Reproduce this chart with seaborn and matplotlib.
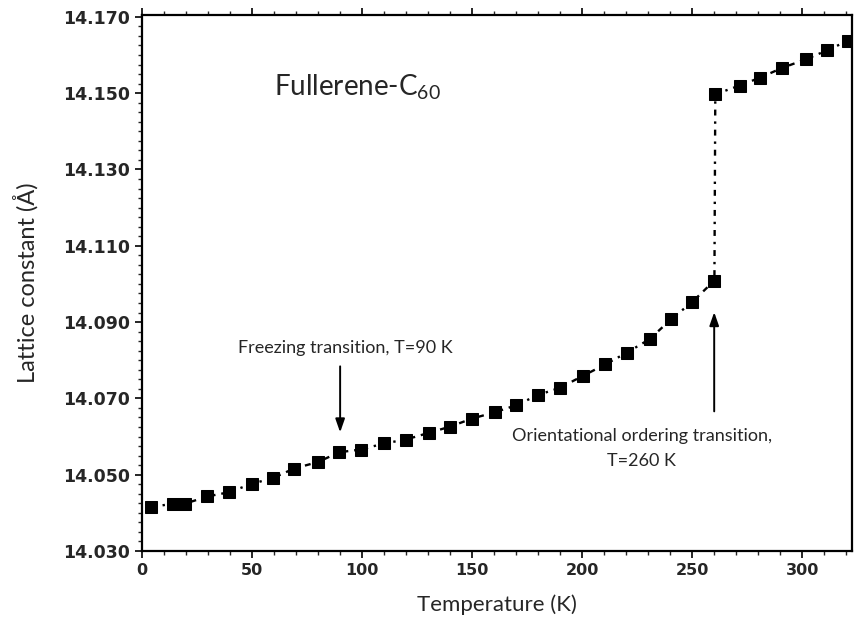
import matplotlib
matplotlib.use("Agg")
import matplotlib.pyplot as plt
import seaborn as sns
import pandas as pd
from matplotlib.ticker import MultipleLocator, FormatStrFormatter

# ---- data ----
temperature = [4, 14, 19.5, 29.7, 39.5, 49.8, 59.4, 69, 79.8, 89.7, 99.5, 110,
               119.8, 130.5, 140, 149.9, 160.5, 170, 180, 190, 200.3, 210.5,
               220.3, 230.6, 240.5, 249.9, 260.1, 260.5, 271.5, 281, 290.8,
               301.7, 311.2, 321]
lattice = [14.0415, 14.0424, 14.0424, 14.0443, 14.0454, 14.0476, 14.0491,
           14.0516, 14.0533, 14.0559, 14.0566, 14.0582, 14.0592, 14.0610,
           14.0626, 14.0647, 14.0664, 14.0682, 14.0709, 14.0728, 14.0759,
           14.0789, 14.0820, 14.0855, 14.0908, 14.0952, 14.1009, 14.1497,
           14.1520, 14.1541, 14.1566, 14.1589, 14.1612, 14.1638]
x_ticks = [0, 50, 100, 150, 200, 250, 300]
y_ticks = [14.030, 14.050, 14.070, 14.090, 14.110, 14.130, 14.150, 14.170]

df = pd.DataFrame({"T": temperature, "a": lattice})

sns.set_style("ticks")
plt.rcParams["font.family"] = ["Lato", "DejaVu Sans"]

fig = plt.figure(figsize=(8.56, 6.24), dpi=100)
ax = fig.add_axes([0.166, 0.117, 0.829, 0.859])

sns.lineplot(data=df, x="T", y="a", ax=ax, estimator=None, sort=False,
             color="black", marker="s", markersize=8.5, markeredgecolor="black",
             markerfacecolor="black", linewidth=1.7)
for ln in ax.lines:
    ln.set_dashes([2.5, 2.5, 1, 2.5])

ax.set_xlim(0, 322.5)
ax.set_ylim(14.030, 14.1705)
ax.set_xticks(x_ticks)
ax.set_yticks(y_ticks)
ax.xaxis.set_minor_locator(MultipleLocator(10))
ax.yaxis.set_minor_locator(MultipleLocator(0.0025))
ax.yaxis.set_major_formatter(FormatStrFormatter("%.3f"))

for lab in ax.get_xticklabels():
    lab.set_fontfamily("DejaVu Sans")
    lab.set_fontweight("bold")
    lab.set_fontsize(11.5)
for lab in ax.get_yticklabels():
    lab.set_fontfamily("DejaVu Sans")
    lab.set_fontweight("bold")
    lab.set_fontsize(12.5)

ax.tick_params(axis="both", which="major", direction="out", length=5, width=1.4)
ax.tick_params(axis="both", which="minor", direction="out", length=3, width=1.0)
ax.tick_params(axis="x", which="both", top=True)
for sp in ax.spines.values():
    sp.set_visible(True)
    sp.set_linewidth(1.6)
    sp.set_color("black")

ax.set_xlabel("Temperature (K)", fontsize=16, labelpad=12)
ax.set_ylabel("Lattice constant (Å)", fontsize=17, labelpad=18)

ax.text(60, 14.1515, r"Fullerene-C$\mathregular{_{60}}$", fontsize=20,
        ha="left", va="center")

arrow_style = "-|>,head_length=0.8,head_width=0.28"

# Freezing transition annotation
ax.annotate("", xy=(90, 14.0611), xytext=(90, 14.0784),
            arrowprops=dict(arrowstyle=arrow_style,
                            color="black", lw=1.4, shrinkA=0, shrinkB=0))
ax.text(92.5, 14.0832, "Freezing transition, T=90 K", fontsize=13,
        ha="center", va="center")

# Orientational ordering annotation
ax.annotate("", xy=(260, 14.0926), xytext=(260, 14.0666),
            arrowprops=dict(arrowstyle=arrow_style,
                            color="black", lw=1.4, shrinkA=0, shrinkB=0))
ax.text(227, 14.0601, "Orientational ordering transition,", fontsize=13,
        ha="center", va="center")
ax.text(227, 14.0535, "T=260 K", fontsize=13, ha="center", va="center")

fig.savefig("out.png", dpi=100)
